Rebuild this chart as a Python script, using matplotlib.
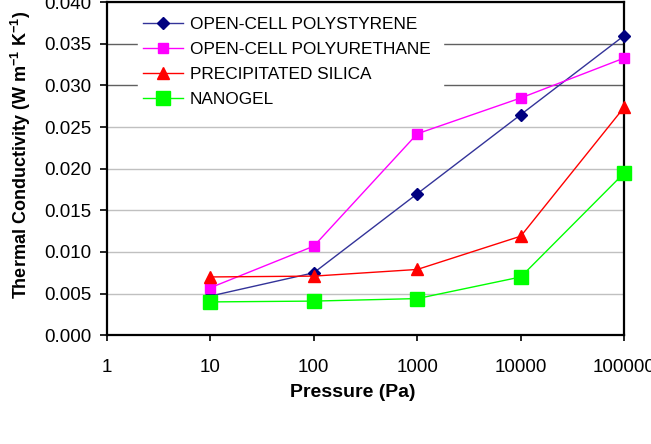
import matplotlib.pyplot as plt
import numpy as np

plt.rcParams['font.family'] = ['Liberation Sans', 'DejaVu Sans']
plt.rcParams['mathtext.fontset'] = 'custom'
plt.rcParams['mathtext.rm'] = 'Liberation Sans'
plt.rcParams['mathtext.bf'] = 'Liberation Sans:bold'

# data
pressure = [10, 100, 1000, 10000, 100000]
polystyrene = [0.0047, 0.0075, 0.0170, 0.0265, 0.0360]
polyurethane = [0.0057, 0.0107, 0.0242, 0.0285, 0.0333]
silica = [0.0070, 0.0071, 0.0079, 0.0119, 0.0274]
nanogel = [0.0040, 0.0041, 0.0044, 0.0070, 0.0195]

x_ticks = [1, 10, 100, 1000, 10000, 100000]
y_ticks = np.arange(0, 0.0401, 0.005)

fig = plt.figure(figsize=(6.51, 4.44), dpi=100)
ax = fig.add_axes([0.164, 0.245, 0.795, 0.75])

ax.plot(pressure, polystyrene, color='#333399', lw=1, marker='D', ms=6,
        mfc='#000080', mec='#000080', label='OPEN-CELL POLYSTYRENE', zorder=3, clip_on=False)
ax.plot(pressure, polyurethane, color='#ff00ff', lw=1, marker='s', ms=6.5,
        mfc='#ff00ff', mec='#ff00ff', label='OPEN-CELL POLYURETHANE', zorder=3, clip_on=False)
ax.plot(pressure, silica, color='#ff0000', lw=1, marker='^', ms=8.5,
        mfc='#ff0000', mec='#ff0000', label='PRECIPITATED SILICA', zorder=3, clip_on=False)
ax.plot(pressure, nanogel, color='#00ff00', lw=1, marker='s', ms=10,
        mfc='#00ff00', mec='#00ff00', label='NANOGEL', zorder=3, clip_on=False)

ax.set_xscale('log')
ax.set_xlim(1, 100000)
ax.set_ylim(0, 0.040)
ax.set_xticks(x_ticks)
ax.set_xticklabels([str(v) for v in x_ticks])
ax.minorticks_off()
ax.set_yticks(y_ticks)
ax.set_yticklabels(['%.3f' % v for v in y_ticks])
ax.tick_params(axis='both', labelsize=13.5, direction='out', length=4, width=1.2)
ax.tick_params(axis='x', pad=13)
ax.tick_params(axis='y', length=5, pad=6)

ax.grid(axis='y', color='#c0c0c0', lw=1, zorder=0)
ax.set_axisbelow(True)
gl = ax.get_ygridlines()
gl[6].set_color('#606060')
gl[7].set_color('#606060')
for s in ax.spines.values():
    s.set_linewidth(1.6)

ax.set_xlabel('Pressure (Pa)', fontsize=14, fontweight='bold')
ax.xaxis.set_label_coords(0.476, -0.147)
ax.set_ylabel(r'Thermal Conductivity (W m$^{\mathbf{-1}}$ K$^{\mathbf{-1}}$)',
              fontsize=13, fontweight='bold')
ax.yaxis.set_label_coords(-0.143, 0.54)

leg = ax.legend(loc='upper left', bbox_to_anchor=(0.044, 0.0, 0.623, 0.997),
                mode='expand', fontsize=12.4, frameon=True, framealpha=1,
                edgecolor='white', fancybox=False, handlelength=2.3,
                handletextpad=0.4, labelspacing=0.57, borderpad=0.3)

fig.savefig('out.png', dpi=100)
